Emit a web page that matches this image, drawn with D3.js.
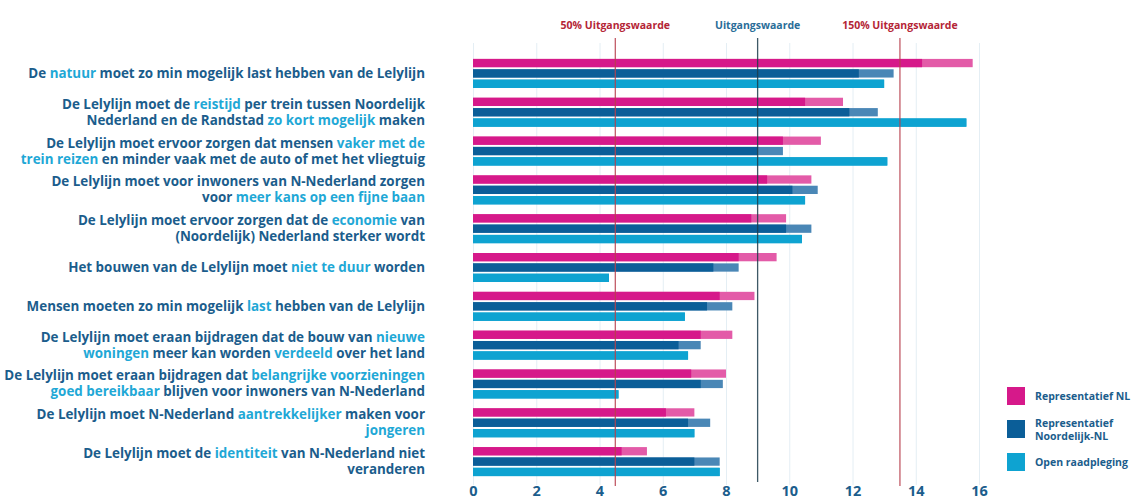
<html lang="nl">
<head>
<meta charset="UTF-8">
<title>Lelylijn doelen</title>
<script src="https://d3js.org/d3.v7.min.js"></script>
<style>
  body { margin: 0; background: #fff; font-family: "Open Sans", Lato, sans-serif; }
  svg text { font-weight: 700; }
</style>
</head>
<body>
<div id="chart"></div>
<script>
// labels: [..] marks the highlighted words, | splits lines
const categories = [
  "De [natuur] moet zo min mogelijk last hebben van de Lelylijn",
  "De Lelylijn moet de [reistijd] per trein tussen Noordelijk|Nederland en de Randstad [zo kort mogelijk] maken",
  "De Lelylijn moet ervoor zorgen dat mensen [vaker met de]|[trein reizen] en minder vaak met de auto of met het vliegtuig",
  "De Lelylijn moet voor inwoners van N-Nederland zorgen|voor [meer kans op een fijne baan]",
  "De Lelylijn moet ervoor zorgen dat de [economie] van|(Noordelijk) Nederland sterker wordt",
  "Het bouwen van de Lelylijn moet [niet te duur] worden",
  "Mensen moeten zo min mogelijk [last] hebben van de Lelylijn",
  "De Lelylijn moet eraan bijdragen dat de bouw van [nieuwe]|[woningen] meer kan worden [verdeeld] over het land",
  "De Lelylijn moet eraan bijdragen dat [belangrijke voorzieningen]|[goed bereikbaar] blijven voor inwoners van N-Nederland",
  "De Lelylijn moet N-Nederland [aantrekkelijker] maken voor|[jongeren]",
  "De Lelylijn moet de [identiteit] van N-Nederland niet|veranderen"
];

const seriesNames = ["Representatief NL", "Representatief Noordelijk-NL", "Open raadpleging"];
const repNL      = [14.2, 10.5, 9.8, 9.3, 8.8, 8.4, 7.8, 7.2, 6.9, 6.1, 4.7];
const repNLHigh  = [15.8, 11.7, 11.0, 10.7, 9.9, 9.6, 8.9, 8.2, 8.0, 7.0, 5.5];
const repNNL     = [12.2, 11.9, 9.0, 10.1, 9.9, 7.6, 7.4, 6.5, 7.2, 6.8, 7.0];
const repNNLHigh = [13.3, 12.8, 9.8, 10.9, 10.7, 8.4, 8.2, 7.2, 7.9, 7.5, 7.8];
const openRaad   = [13.0, 15.6, 13.1, 10.5, 10.4, 4.3, 6.7, 6.8, 4.6, 7.0, 7.8];

const xTicks = [0, 2, 4, 6, 8, 10, 12, 14, 16];
const baseline = 9;
const refLines = [
  { label: "50% Uitgangswaarde", value: baseline * 0.5, color: "#b8404e", text: "#b42536" },
  { label: "Uitgangswaarde", value: baseline, color: "#1d3d4c", text: "#2a6d98" },
  { label: "150% Uitgangswaarde", value: baseline * 1.5, color: "#b8404e", text: "#b42536" }
];

const W = 1131, H = 499;
const dark = "#1b5d8c", light = "#1fa8d6";
const solid = ["#d6198a", "#0b5e98", "#0ea3d1"];
const pale = ["#e35ba8", "#4a87b6", "#0ea3d1"];

const svg = d3.select("#chart").append("svg").attr("width", W).attr("height", H);

const x = d3.scaleLinear().domain([0, 16]).range([473, 979]);
const y = d3.scaleBand().domain(d3.range(categories.length)).range([54, 481]);
const ySub = d3.scaleBand().domain(d3.range(3)).range([0, 29]).paddingInner(0.2);
const off = (y.bandwidth() - 29) / 2;

// grid
svg.append("g")
  .attr("transform", "translate(0,485)")
  .call(d3.axisBottom(x).tickValues(xTicks).tickSize(-442).tickFormat(""))
  .call(g => g.select(".domain").remove())
  .call(g => g.selectAll("line").attr("stroke", "#e4eef4"));

// bars
const rows = categories.map((c, i) => ({
  i,
  bars: [
    { s: 0, v: repNL[i], hi: repNLHigh[i] },
    { s: 1, v: repNNL[i], hi: repNNLHigh[i] },
    { s: 2, v: openRaad[i], hi: openRaad[i] }
  ]
}));

const grp = svg.selectAll(".grp").data(rows).join("g")
  .attr("transform", d => `translate(0,${y(d.i) + off})`);

grp.selectAll(".hi").data(d => d.bars).join("rect")
  .attr("x", x(0))
  .attr("y", d => ySub(d.s))
  .attr("width", d => x(d.hi) - x(0))
  .attr("height", ySub.bandwidth())
  .attr("fill", d => pale[d.s]);

grp.selectAll(".lo").data(d => d.bars).join("rect")
  .attr("x", x(0))
  .attr("y", d => ySub(d.s))
  .attr("width", d => x(d.v) - x(0))
  .attr("height", ySub.bandwidth())
  .attr("fill", d => solid[d.s]);

// reference lines
refLines.forEach(r => {
  svg.append("line")
    .attr("x1", x(r.value)).attr("x2", x(r.value))
    .attr("y1", 38).attr("y2", r.value === baseline ? 482 : 486)
    .attr("stroke", r.color).attr("stroke-width", 1.3).attr("opacity", 0.85);
  svg.append("text")
    .attr("x", x(r.value)).attr("y", 29)
    .attr("text-anchor", "middle")
    .attr("font-size", 10.5)
    .attr("fill", r.text)
    .text(r.label);
});

// x axis labels
svg.append("g")
  .attr("transform", "translate(0,485)")
  .call(d3.axisBottom(x).tickValues(xTicks).tickSize(0).tickPadding(1))
  .call(g => g.select(".domain").remove())
  .call(g => g.selectAll("text")
    .attr("font-family", "'Open Sans', sans-serif")
    .attr("font-size", 14.5)
    .attr("font-weight", 700)
    .attr("fill", dark));

// category labels
categories.forEach((c, i) => {
  const lines = c.split("|");
  const cy = y(i) + y.bandwidth() / 2;
  const t = svg.append("text")
    .attr("text-anchor", "end")
    .attr("font-size", 13.4)
    .attr("fill", dark);
  lines.forEach((ln, k) => {
    const parts = ln.split(/(\[[^\]]*\])/).filter(p => p.length);
    parts.forEach((p, j) => {
      const hl = p.startsWith("[");
      const ts = t.append("tspan").text(hl ? p.slice(1, -1) : p)
        .attr("fill", hl ? light : dark);
      if (j === 0) ts.attr("x", 425).attr("y", cy + 4.5 + (k - (lines.length - 1) / 2) * 16);
    });
  });
});

// legend
const lg = svg.append("g").attr("transform", "translate(1007,387)");
seriesNames.forEach((s, i) => {
  const g = lg.append("g").attr("transform", `translate(0,${i * 33})`);
  g.append("rect").attr("width", 18).attr("height", 18).attr("fill", solid[i]);
  const words = i === 1 ? ["Representatief", "Noordelijk-NL"] : [s];
  words.forEach((w, k) => {
    g.append("text")
      .attr("x", 28)
      .attr("y", 13 + (k - (words.length - 1) / 2) * 13)
      .attr("font-size", 10.5)
      .attr("fill", dark)
      .text(w);
  });
});
</script>
</body>
</html>
